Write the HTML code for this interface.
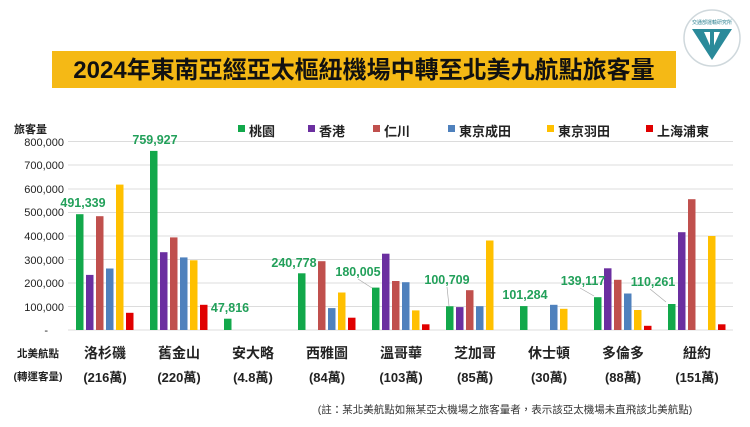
<!DOCTYPE html>
<html><head><meta charset="utf-8"><style>
body{margin:0;background:#fff;}
svg text{font-family:"Liberation Sans","Noto Sans CJK TC",sans-serif;}
</style></head><body>
<svg width="750" height="422" viewBox="0 0 750 422" xmlns="http://www.w3.org/2000/svg">
<rect width="750" height="422" fill="#fff"/>
<rect x="52" y="51" width="624" height="37" fill="#f5b915"/>
<text x="364" y="78" font-size="24" text-anchor="middle" fill="#111" font-weight="bold">2024年東南亞經亞太樞紐機場中轉至北美九航點旅客量</text>
<circle cx="712" cy="38" r="28" fill="#fff" stroke="#cfd8dc" stroke-width="1.5"/>
<text x="712" y="24" font-size="5" text-anchor="middle" fill="#2a7f8f">交通部運輸研究所</text>
<path d="M692 29 L732 29 L712 60 Z" fill="#2a8a9a"/>
<path d="M704 32 L720 32 L712 50 Z" fill="#fff"/>
<rect x="710" y="30" width="4" height="22" fill="#2a8a9a"/>
<g font-size="11" fill="#222">
<text x="14" y="133" font-weight="bold">旅客量</text>
<text x="64" y="146" text-anchor="end">800,000</text>
<text x="64" y="169" text-anchor="end">700,000</text>
<text x="64" y="193" text-anchor="end">600,000</text>
<text x="64" y="216" text-anchor="end">500,000</text>
<text x="64" y="240" text-anchor="end">400,000</text>
<text x="64" y="264" text-anchor="end">300,000</text>
<text x="64" y="287" text-anchor="end">200,000</text>
<text x="64" y="311" text-anchor="end">100,000</text>
<text x="48" y="334" text-anchor="end">-</text>
</g>
<g stroke="#dcdcdc" stroke-width="1">
<line x1="68" y1="141.5" x2="733" y2="141.5"/>
<line x1="68" y1="165" x2="733" y2="165"/>
<line x1="68" y1="189" x2="733" y2="189"/>
<line x1="68" y1="212.5" x2="733" y2="212.5"/>
<line x1="68" y1="236" x2="733" y2="236"/>
<line x1="68" y1="259.5" x2="733" y2="259.5"/>
<line x1="68" y1="283" x2="733" y2="283"/>
<line x1="68" y1="306.5" x2="733" y2="306.5"/>
<line x1="68" y1="330" x2="733" y2="330"/>
</g>
<g font-size="13" fill="#222" font-weight="bold">
<rect x="238" y="125" width="7" height="7" fill="#12a84b"/><text x="249" y="136">桃園</text>
<rect x="308" y="125" width="7" height="7" fill="#6b2fa0"/><text x="319" y="136">香港</text>
<rect x="373" y="125" width="7" height="7" fill="#c0504d"/><text x="384" y="136">仁川</text>
<rect x="448" y="125" width="7" height="7" fill="#4f81bd"/><text x="459" y="136">東京成田</text>
<rect x="547" y="125" width="7" height="7" fill="#ffc000"/><text x="558" y="136">東京羽田</text>
<rect x="646" y="125" width="7" height="7" fill="#e00000"/><text x="657" y="136">上海浦東</text>
</g>
<g>
<rect x="76" y="214.2" width="7.5" height="115.8" fill="#12a84b"/>
<rect x="86" y="274.9" width="7.5" height="55.1" fill="#6b2fa0"/>
<rect x="96" y="216.2" width="7.5" height="113.8" fill="#c0504d"/>
<rect x="106" y="268.5" width="7.5" height="61.5" fill="#4f81bd"/>
<rect x="116" y="184.6" width="7.5" height="145.4" fill="#ffc000"/>
<rect x="126" y="312.8" width="7.5" height="17.2" fill="#e00000"/>

<rect x="150" y="150.9" width="7.5" height="179.1" fill="#12a84b"/>
<rect x="160" y="252.2" width="7.5" height="77.8" fill="#6b2fa0"/>
<rect x="170" y="237.4" width="7.5" height="92.6" fill="#c0504d"/>
<rect x="180" y="257.4" width="7.5" height="72.6" fill="#4f81bd"/>
<rect x="190" y="260.3" width="7.5" height="69.7" fill="#ffc000"/>
<rect x="200" y="304.8" width="7.5" height="25.2" fill="#e00000"/>

<rect x="224" y="318.7" width="7.5" height="11.3" fill="#12a84b"/>

<rect x="298" y="273.3" width="7.5" height="56.7" fill="#12a84b"/>
<rect x="318" y="261.2" width="7.5" height="68.8" fill="#c0504d"/>
<rect x="328" y="308.1" width="7.5" height="21.9" fill="#4f81bd"/>
<rect x="338" y="292.5" width="7.5" height="37.5" fill="#ffc000"/>
<rect x="348" y="317.7" width="7.5" height="12.3" fill="#e00000"/>

<rect x="372" y="287.6" width="7.5" height="42.4" fill="#12a84b"/>
<rect x="382" y="253.7" width="7.5" height="76.3" fill="#6b2fa0"/>
<rect x="392" y="281" width="7.5" height="49" fill="#c0504d"/>
<rect x="402" y="282.2" width="7.5" height="47.8" fill="#4f81bd"/>
<rect x="412" y="310.4" width="7.5" height="19.6" fill="#ffc000"/>
<rect x="422" y="324.3" width="7.5" height="5.7" fill="#e00000"/>

<rect x="446" y="306.3" width="7.5" height="23.7" fill="#12a84b"/>
<rect x="456" y="307.1" width="7.5" height="22.9" fill="#6b2fa0"/>
<rect x="466" y="290.2" width="7.5" height="39.8" fill="#c0504d"/>
<rect x="476" y="306.2" width="7.5" height="23.8" fill="#4f81bd"/>
<rect x="486" y="240.5" width="7.5" height="89.5" fill="#ffc000"/>

<rect x="520" y="306.1" width="7.5" height="23.9" fill="#12a84b"/>
<rect x="550" y="304.8" width="7.5" height="25.2" fill="#4f81bd"/>
<rect x="560" y="308.8" width="7.5" height="21.2" fill="#ffc000"/>

<rect x="594" y="297.2" width="7.5" height="32.8" fill="#12a84b"/>
<rect x="604" y="268.3" width="7.5" height="61.7" fill="#6b2fa0"/>
<rect x="614" y="279.8" width="7.5" height="50.2" fill="#c0504d"/>
<rect x="624" y="293.5" width="7.5" height="36.5" fill="#4f81bd"/>
<rect x="634" y="310" width="7.5" height="20" fill="#ffc000"/>
<rect x="644" y="325.8" width="7.5" height="4.2" fill="#e00000"/>

<rect x="668" y="304" width="7.5" height="26" fill="#12a84b"/>
<rect x="678" y="232.2" width="7.5" height="97.8" fill="#6b2fa0"/>
<rect x="688" y="199.2" width="7.5" height="130.8" fill="#c0504d"/>
<rect x="708" y="236" width="7.5" height="94" fill="#ffc000"/>
<rect x="718" y="324.3" width="7.5" height="5.7" fill="#e00000"/>
</g>
<g font-size="12.5" font-weight="bold" fill="#22a05a" text-anchor="middle">
<text x="83" y="207">491,339</text>
<text x="155" y="144">759,927</text>
<text x="230" y="312">47,816</text>
<text x="294" y="267">240,778</text>
<text x="358" y="276">180,005</text>
<text x="447" y="284">100,709</text>
<text x="525" y="299">101,284</text>
<text x="583" y="285">139,117</text>
<text x="653" y="286">110,261</text>
</g>
<g stroke="#aaa" stroke-width="0.7">
<line x1="358" y1="279" x2="372" y2="288"/>
<line x1="447" y1="287" x2="449" y2="306"/>
<line x1="580" y1="288" x2="594" y2="296"/>
<line x1="650" y1="289" x2="666" y2="302"/>
</g>
<g font-size="10.5" fill="#222" text-anchor="middle" font-weight="bold">
<text x="38" y="357">北美航點</text><text x="38" y="380">(轉運客量)</text>
</g>
<g font-size="14" fill="#222" text-anchor="middle" font-weight="bold">
<text x="105" y="358">洛杉磯</text><text x="105" y="382" font-size="13">(216萬)</text>
<text x="179" y="358">舊金山</text><text x="179" y="382" font-size="13">(220萬)</text>
<text x="253" y="358">安大略</text><text x="253" y="382" font-size="13">(4.8萬)</text>
<text x="327" y="358">西雅圖</text><text x="327" y="382" font-size="13">(84萬)</text>
<text x="401" y="358">溫哥華</text><text x="401" y="382" font-size="13">(103萬)</text>
<text x="475" y="358">芝加哥</text><text x="475" y="382" font-size="13">(85萬)</text>
<text x="549" y="358">休士頓</text><text x="549" y="382" font-size="13">(30萬)</text>
<text x="623" y="358">多倫多</text><text x="623" y="382" font-size="13">(88萬)</text>
<text x="697" y="358">紐約</text><text x="697" y="382" font-size="13">(151萬)</text>
</g>
<text x="505" y="413" font-size="10.5" fill="#333" text-anchor="middle">(註：某北美航點如無某亞太機場之旅客量者，表示該亞太機場未直飛該北美航點)</text>
</svg>
</body></html>
